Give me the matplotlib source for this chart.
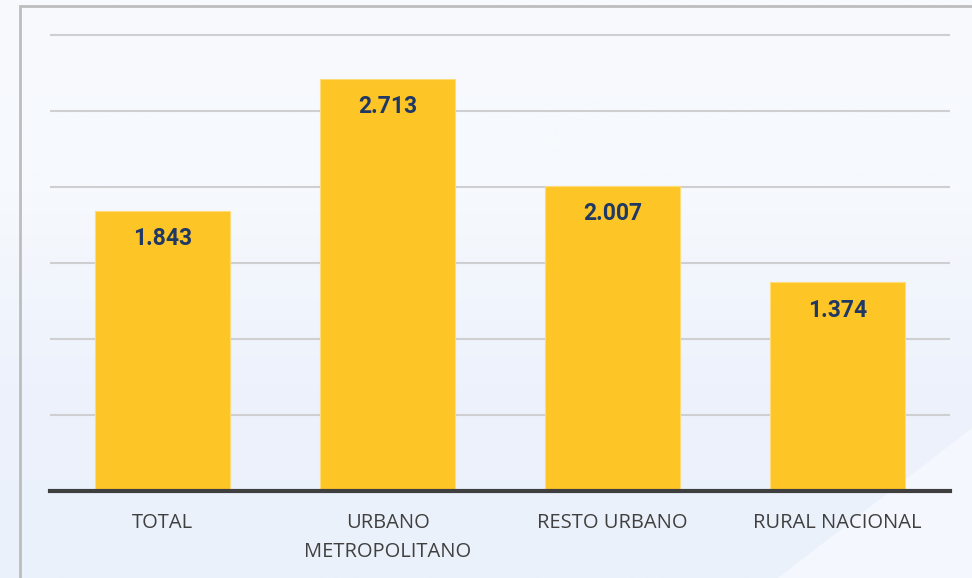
# ───────────────────────── Imports ─────────────────────────
import numpy as np
import matplotlib.pyplot as plt
from matplotlib.patches import Rectangle, Polygon

# ───────────────────────── Data ─────────────────────────
categories = ["TOTAL", "URBANO\nMETROPOLITANO", "RESTO URBANO", "RURAL NACIONAL"]
values = [1.843, 2.713, 2.007, 1.374]
value_labels = ["1.843", "2.713", "2.007", "1.374"]

# ───────────────────────── Figure ─────────────────────────
W, H = 972, 578
fig = plt.figure(figsize=(W / 100, H / 100), dpi=100)
fig.patch.set_facecolor("#ECF2FB")

# soft background: light top fading to pale blue
bg = fig.add_axes([0, 0, 1, 1], zorder=-10)
grad = np.linspace(0, 1, 256).reshape(-1, 1)
bg.imshow(grad, aspect="auto", extent=[0, 1, 0, 1], origin="upper",
          cmap=plt.matplotlib.colors.LinearSegmentedColormap.from_list(
              "bgc", ["#F8FAFD", "#F6F9FD", "#EDF2FC", "#EBF1FB"]))
bg.add_patch(Polygon([[0.8, 0], [1, 0], [1, 0.26]], closed=True,
                     facecolor="#F4F8FE", edgecolor="none"))
bg.set_xlim(0, 1)
bg.set_ylim(0, 1)
bg.axis("off")

# outer frame (only top/left edges visible)
fig.patches.append(Rectangle((20 / W, -0.2), 2, 1 - 6 / H + 0.2,
                             transform=fig.transFigure, fill=False,
                             edgecolor="#BDBDBD", linewidth=2))

# ───────────────────────── Axes ─────────────────────────
ymax = 3.02
top_px = 491 - ymax * 152
ax = fig.add_axes([50 / W, 1 - 491 / H, 900 / W, (491 - top_px) / H])
ax.patch.set_alpha(0)

x = np.arange(len(categories))
bars = ax.bar(x, values, width=0.6, color="#FEC526", edgecolor="#FFDC7A",
              linewidth=0.8, zorder=3)

for xi, v, lab in zip(x, values, value_labels):
    ax.annotate(lab, (xi, v), xytext=(0, -28), textcoords="offset pixels",
                ha="center", va="center", fontsize=16.5, fontweight="bold",
                family=["Roboto", "DejaVu Sans"], color="#1F3864", zorder=4)

ax.set_xlim(-0.5, 3.5)
ax.set_ylim(0, ymax)
ax.set_yticks(np.arange(0.5, 3.01, 0.5))
ax.yaxis.grid(True, color="#CFCFD2", linewidth=1.5, zorder=0)
ax.tick_params(axis="y", length=0, labelleft=False)

ax.set_xticks(x)
ax.set_xticklabels(categories, fontsize=14.5, color="#404040",
                   family=["Open Sans", "DejaVu Sans"], linespacing=1.6)
ax.tick_params(axis="x", length=0, pad=16)

for side in ["top", "right", "left"]:
    ax.spines[side].set_visible(False)
ax.spines["bottom"].set_color("#3F3F3F")
ax.spines["bottom"].set_linewidth(3)
ax.spines["bottom"].set_zorder(5)

fig.savefig("out.png", dpi=100)
